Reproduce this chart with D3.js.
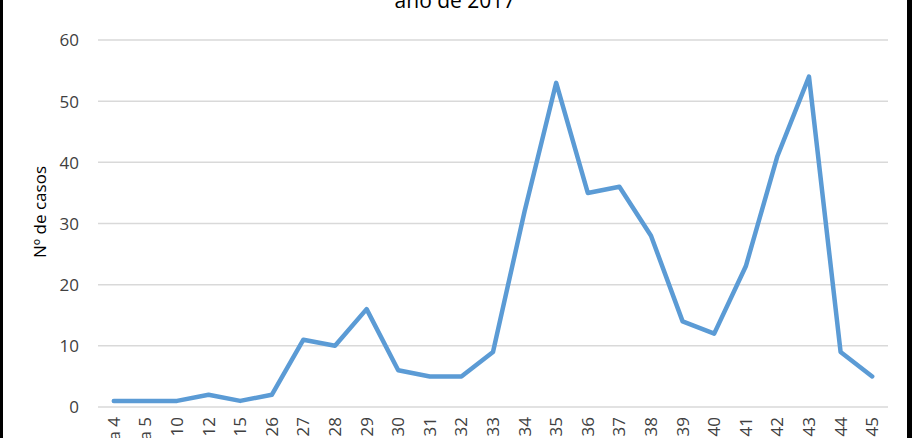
<!DOCTYPE html>
<html><head><meta charset="utf-8">
<script src="https://cdn.jsdelivr.net/npm/d3@7"></script>
<style>body{margin:0;background:#fff}svg{display:block}</style>
</head><body>
<script>
const categories = ["Semana 4","Semana 5","10","12","15","26","27","28","29","30","31","32","33","34","35","36","37","38","39","40","41","42","43","44","45"];
const values = [1,1,1,2,1,2,11,10,16,6,5,5,9,32,53,35,36,28,14,12,23,41,54,9,5];
const yTicks = [0,10,20,30,40,50,60];
const titleText = "año de 2017";
const yTitle = "Nº de casos";

const W = 912, H = 438;
const svg = d3.select("body").append("svg").attr("width", W).attr("height", H);
svg.append("rect").attr("width", W).attr("height", H).attr("fill", "#fff");

const x = d3.scaleBand().domain(categories).range([98, 888]);
const y = d3.scaleLinear().domain([0, 60]).range([407, 40]);
const font = "'Open Sans', 'Liberation Sans', sans-serif";

// gridlines
svg.append("g").selectAll("line").data(yTicks).join("line")
  .attr("x1", 98).attr("x2", 888)
  .attr("y1", d => y(d)).attr("y2", d => y(d))
  .attr("stroke", "#d9d9d9").attr("stroke-width", 1.5);

// y axis labels
const yAxis = d3.axisLeft(y).tickValues(yTicks).tickSize(0).tickPadding(0);
const gy = svg.append("g").attr("transform", "translate(79,0)").call(yAxis);
gy.select(".domain").remove();
gy.selectAll("text").attr("font-family", font).attr("font-size", 17).attr("fill", "#404040").attr("dy", "0.35em");

// x axis labels (rotated)
const xAxis = d3.axisBottom(x).tickSize(0).tickPadding(0);
const gx = svg.append("g").attr("transform", "translate(0,417)").call(xAxis);
gx.select(".domain").remove();
gx.selectAll("text")
  .attr("font-family", font).attr("font-size", 17).attr("fill", "#404040")
  .attr("transform", "rotate(-90)")
  .attr("text-anchor", "end").attr("x", 0).attr("y", 0).attr("dy", "0.35em");

// line
const line = d3.line().x((d, i) => x(categories[i]) + x.bandwidth() / 2).y(d => y(d));
svg.append("path").datum(values).attr("d", line)
  .attr("fill", "none").attr("stroke", "#5b9bd5").attr("stroke-width", 4.5)
  .attr("stroke-linejoin", "round").attr("stroke-linecap", "round");

// y title
svg.append("text").attr("transform", "translate(46,212) rotate(-90)")
  .attr("text-anchor", "middle").attr("font-family", font).attr("font-size", 17).attr("fill", "#000")
  .text(yTitle);

// title (cut by frame top)
svg.append("text").attr("x", 455).attr("y", 8).attr("text-anchor", "middle")
  .attr("font-family", font).attr("font-size", 21).attr("fill", "#000").text(titleText);

// black frame edges
svg.append("rect").attr("x", 0).attr("y", 0).attr("width", 3).attr("height", H).attr("fill", "#000");
svg.append("rect").attr("x", 907).attr("y", 0).attr("width", 5).attr("height", H).attr("fill", "#000");
</script>
</body></html>
